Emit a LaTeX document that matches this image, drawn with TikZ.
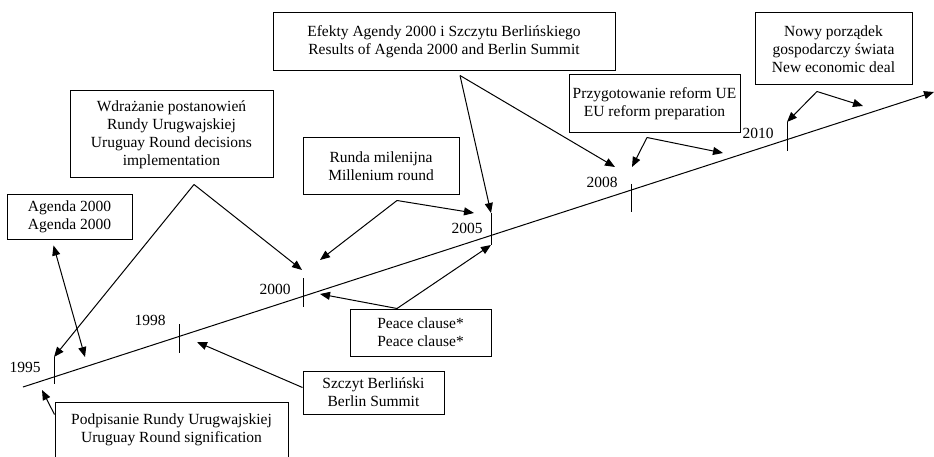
\documentclass[tikz,border=0pt]{standalone}
\usepackage{fontspec}
\setmainfont{Liberation Serif}
\usetikzlibrary{arrows.meta}

\begin{document}
\begin{tikzpicture}[x=1pt, y=-1pt,
  font=\fontsize{15.5}{18}\selectfont,
  box/.style={draw=black, line width=1pt, align=center, inner sep=2pt},
  arr/.style={black, line width=1pt, -{Triangle[length=10pt,width=8pt]}},
  twoarr/.style={black, line width=1pt, {Triangle[length=10pt,width=8pt]}-{Triangle[length=10pt,width=8pt]}},
  tick/.style={black, line width=1pt}]

\useasboundingbox (0,0) rectangle (934,457);
\clip (0,0) rectangle (934,457);

\coordinate (axstart) at (23,387);
\coordinate (axend) at (934,92);
\draw[arr] (axstart) -- (axend);

\draw[tick] (54,357) coordinate (t95a) -- (54,384) coordinate (t95b);
\draw[tick] (179,324) coordinate (t98a) -- (179,353) coordinate (t98b);
\draw[tick] (303,278) coordinate (t00a) -- (303,307) coordinate (t00b);
\draw[tick] (491,213) coordinate (t05a) -- (491,245) coordinate (t05b);
\draw[tick] (631,184) coordinate (t08a) -- (631,212) coordinate (t08b);
\draw[tick] (787,122) coordinate (t10a) -- (787,151) coordinate (t10b);

 \node (l95) at (25,367) {1995};
 \node (l98) at (150,320) {1998};
 \node (l00) at (275,289) {2000};
 \node (l05) at (467,228) {2005};
 \node (l08) at (602,182) {2008};
 \node (l10) at (758,133) {2010};

\node[box, minimum width=125pt, minimum height=44pt] (agenda) at (69.5,217) {Agenda 2000\\Agenda 2000};
\node[box, minimum width=203pt, minimum height=87pt] (wdraz) at (171.5,134.5) {Wdrażanie postanowień\\Rundy Urugwajskiej\\Uruguay Round decisions\\implementation};
\node[box, minimum width=156pt, minimum height=57pt] (runda) at (381,166.5) {Runda milenijna\\Millenium round};
\node[box, minimum width=342pt, minimum height=58pt] (efekty) at (444,42) {Efekty Agendy 2000 i Szczytu Berlińskiego\\Results of Agenda 2000 and Berlin Summit};
\node[box, minimum width=171pt, minimum height=58pt] (przyg) at (654.5,104) {Przygotowanie reform UE\\EU reform preparation};
\node[box, minimum width=157pt, minimum height=72pt] (nowy) at (833.5,49) {Nowy porządek\\gospodarczy świata\\New economic deal};
\node[box, minimum width=141pt, minimum height=47pt] (peace) at (420.5,332.5) {Peace clause*\\Peace clause*};
\node[box, minimum width=141pt, minimum height=43pt] (szczyt) at (373.5,392.5) {Szczyt Berliński\\Berlin Summit};
\node[box, minimum width=233pt, minimum height=70pt] (podp) at (171.5,437) {Podpisanie Rundy Urugwajskiej\\Uruguay Round signification\\ \mbox{}};

\coordinate (agtop) at ([xshift=-16pt,yshift=-6pt]agenda.south);
\coordinate (agbot) at (85,357);
\draw[twoarr] (agtop) -- (agbot);

\coordinate (wdrazfork) at ([xshift=22.5pt,yshift=-6pt]wdraz.south);
\coordinate (wdrazend) at (302,270);
\draw[arr] (wdrazfork) -- (t95a);
\draw[arr] (wdrazfork) -- (wdrazend);

\coordinate (rundafork) at ([xshift=16pt,yshift=-5pt]runda.south);
\coordinate (rundaleft) at (320,260);
\coordinate (rundaright) at (474,213);
\draw[arr] (rundafork) -- (rundaleft);
\draw[arr] (rundafork) -- (rundaright);

\coordinate (efektyfork) at ([xshift=16pt,yshift=-4pt]efekty.south);
\coordinate (efektyright) at (615,167);
\draw[arr] (efektyfork) -- (t05a);
\draw[arr] (efektyfork) -- (efektyright);

\coordinate (przygfork) at ([xshift=-7.5pt,yshift=-4pt]przyg.south);
\coordinate (przygleft) at (632,167);
\coordinate (przygright) at (723,153);
\draw[arr] (przygfork) -- (przygleft);
\draw[arr] (przygfork) -- (przygright);

\coordinate (nowyfork) at ([xshift=-16.5pt,yshift=-6pt]nowy.south);
\coordinate (nowyright) at (863,106);
\draw[arr] (nowyfork) -- (t10a);
\draw[arr] (nowyfork) -- (nowyright);

\coordinate (peacefork) at ([xshift=-23.5pt]peace.north);
\coordinate (peaceleft) at (320,294);
\draw[arr] (peacefork) -- (peaceleft);
\draw[arr] (peacefork) -- (t05b);

\coordinate (szczytend) at (197,342);
\draw[arr] ([yshift=5pt]szczyt.west) -- (szczytend);

\coordinate (podpend) at (42,390);
\draw[arr] ([yshift=-13pt]podp.north west) -- (podpend);

\end{tikzpicture}
\end{document}
